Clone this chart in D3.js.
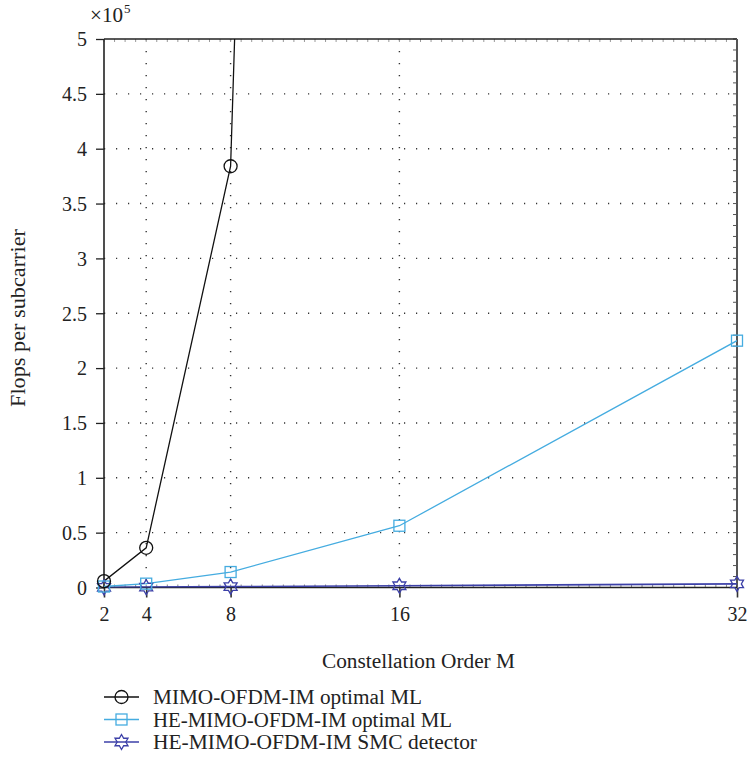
<!DOCTYPE html>
<html><head><meta charset="utf-8">
<script src="https://cdn.jsdelivr.net/npm/d3@7"></script>
<style>body{margin:0;background:#fff}svg{display:block}text{font-family:"Liberation Serif","Times New Roman",serif;fill:#222}</style>
</head><body><svg id="c" width="747" height="769"></svg>
<script>
const xTicks = [2, 4, 8, 16, 32];
const yTicks = [0, 0.5, 1, 1.5, 2, 2.5, 3, 3.5, 4, 4.5, 5];
const mOrders = [2, 4, 8, 16, 32];
const mimoML = [5800, 36200, 384000, 5260000];          // M = 2,4,8,16 (16 off-chart)
const heML = [900, 3500, 14100, 56300, 225000];
const heSMC = [150, 350, 800, 1600, 3300];
const seriesNames = ["MIMO-OFDM-IM optimal ML", "HE-MIMO-OFDM-IM optimal ML", "HE-MIMO-OFDM-IM SMC detector"];
const colors = ["#111111", "#45ace0", "#3c40a8"];
const SERIF = '"Liberation Serif","Times New Roman",serif';

const svg = d3.select("#c");
const L = 104, R = 737, T = 39, B = 587.5;
const x = d3.scaleLinear().domain([2, 32]).range([L, R]);
const y = d3.scaleLinear().domain([0, 5e5]).range([B, T]);

svg.append("defs").append("clipPath").attr("id","clip").append("rect")
  .attr("x", L).attr("y", T).attr("width", R-L).attr("height", B-T);

// grid
const g = svg.append("g");
g.selectAll(".vg").data(xTicks.filter(d=>d!==2 && d!==32)).join("line")
  .attr("x1", d=>x(d)).attr("x2", d=>x(d)).attr("y1", T).attr("y2", B)
  .attr("stroke", "#333").attr("stroke-width", 1.4).attr("stroke-dasharray", "1.2,10.8");
g.selectAll(".hg").data(yTicks.filter(d=>d!==0 && d!==5)).join("line")
  .attr("x1", L).attr("x2", R).attr("y1", d=>y(d*1e5)).attr("y2", d=>y(d*1e5))
  .attr("stroke", "#333").attr("stroke-width", 1.4).attr("stroke-dasharray", "1.2,10.8");

// minor ticks (inward)
const minorY = d3.range(0, 50.01, 1).map(d=>d/10);
const minorX = d3.range(4, 64.01, 1).map(d=>d/2);
g.selectAll(".myr").data(minorY).join("line")
  .attr("x1", R).attr("x2", R-4).attr("y1", d=>y(d*1e5)).attr("y2", d=>y(d*1e5)).attr("stroke","#555");
g.selectAll(".mxb").data(minorX).join("line")
  .attr("x1", d=>x(d)).attr("x2", d=>x(d)).attr("y1", B).attr("y2", B-3).attr("stroke","#888");
g.selectAll(".mxt").data(minorX).join("line")
  .attr("x1", d=>x(d)).attr("x2", d=>x(d)).attr("y1", T).attr("y2", T+3).attr("stroke","#999");

// axes
const yAxis = d3.axisLeft(y).tickValues(yTicks.map(d=>d*1e5)).tickFormat(d=>d3.format("")(+(d/1e5).toFixed(1))).tickSize(8).tickPadding(9);
const ya = svg.append("g").attr("transform", `translate(${L},0)`).call(yAxis).attr("font-family", SERIF);
ya.select(".domain").remove();
ya.selectAll("line").attr("stroke","#222").attr("stroke-width",1.3);
ya.selectAll("text").style("font-size","20px").style("font-family", SERIF).attr("fill","#222").attr("dy","0.34em");

const xAxis = d3.axisBottom(x).tickValues(xTicks).tickSize(10).tickPadding(9);
const xa = svg.append("g").attr("transform", `translate(0,${B})`).call(xAxis).attr("font-family", SERIF);
xa.select(".domain").remove();
xa.selectAll("line").attr("stroke","#333").attr("stroke-width",1.6);
xa.selectAll("text").style("font-size","20px").style("font-family", SERIF).attr("fill","#222");

svg.append("line").attr("x1",L).attr("x2",L).attr("y1",T).attr("y2",B).attr("stroke","#222").attr("stroke-width",1.6);
svg.append("line").attr("x1",L).attr("x2",R).attr("y1",T).attr("y2",T).attr("stroke","#222").attr("stroke-width",1.6);
svg.append("line").attr("x1",R).attr("x2",R).attr("y1",T).attr("y2",B).attr("stroke","#555").attr("stroke-width",2);
svg.append("line").attr("x1",L).attr("x2",R).attr("y1",B).attr("y2",B).attr("stroke","#222").attr("stroke-width",1.6);

function hexagram(r){
  const out = [];
  for (let i=0;i<6;i++){
    const a = -Math.PI/2 + i*Math.PI/3;
    out.push([r*Math.cos(a), r*Math.sin(a)]);
    const b = a + Math.PI/6, ri = r/Math.sqrt(3);
    out.push([ri*Math.cos(b), ri*Math.sin(b)]);
  }
  return "M" + out.map(p=>p[0].toFixed(2)+","+p[1].toFixed(2)).join("L") + "Z";
}
function drawMarker(sel, k, cx, cy){
  if (k===0) sel.append("circle").attr("cx",cx).attr("cy",cy).attr("r",6.5).attr("fill","none").attr("stroke",colors[0]).attr("stroke-width",1.3);
  else if (k===1) sel.append("rect").attr("x",cx-5.5).attr("y",cy-5.5).attr("width",11).attr("height",11).attr("fill","none").attr("stroke",colors[1]).attr("stroke-width",1.3);
  else sel.append("path").attr("d",hexagram(7.5)).attr("transform",`translate(${cx},${cy})`).attr("fill","none").attr("stroke",colors[2]).attr("stroke-width",1.3);
}

const datasets = [mimoML, heML, heSMC];
const line = d3.line().x((d,i)=>x(mOrders[i])).y(d=>y(d));
const plot = svg.append("g").attr("clip-path","url(#clip)");
const plotTop = svg.append("g");
[2,1,0].forEach(k=>{
  plot.append("path").datum(datasets[k]).attr("d", line).attr("fill","none")
    .attr("stroke", colors[k]).attr("stroke-width", k===2?1.6:1.3);
});
[2,1,0].forEach(k=>{
  datasets[k].forEach((v,i)=>{ if (v<=5e5) drawMarker(plotTop, k, x(mOrders[i]), y(v)); });
});

// labels
svg.append("text").attr("x",90).attr("y",22).style("font-size","21px").attr("textLength",33).attr("lengthAdjust","spacingAndGlyphs").text("×10");
svg.append("text").attr("x",124).attr("y",13).style("font-size","13px").text("5");
svg.append("text").attr("transform","translate(25,318) rotate(-90)").attr("text-anchor","middle").style("font-size","20px")
  .attr("textLength",178).attr("lengthAdjust","spacingAndGlyphs").text("Flops per subcarrier");
svg.append("text").attr("x",418.5).attr("y",668).attr("text-anchor","middle").style("font-size","20px")
  .attr("textLength",193).attr("lengthAdjust","spacingAndGlyphs").text("Constellation Order M");

// legend
const legendWidths = [269, 299, 324];
const lg = svg.append("g");
seriesNames.forEach((n,k)=>{
  const yy = 697 + k*22.5;
  lg.append("line").attr("x1",104).attr("x2",139).attr("y1",yy).attr("y2",yy).attr("stroke",colors[k]).attr("stroke-width",1.3);
  drawMarker(lg, k, 121.5, yy);
  lg.append("text").attr("x",153).attr("y",yy+7).style("font-size","20px")
    .attr("textLength",legendWidths[k]).attr("lengthAdjust","spacingAndGlyphs").text(n);
});
</script></body></html>
